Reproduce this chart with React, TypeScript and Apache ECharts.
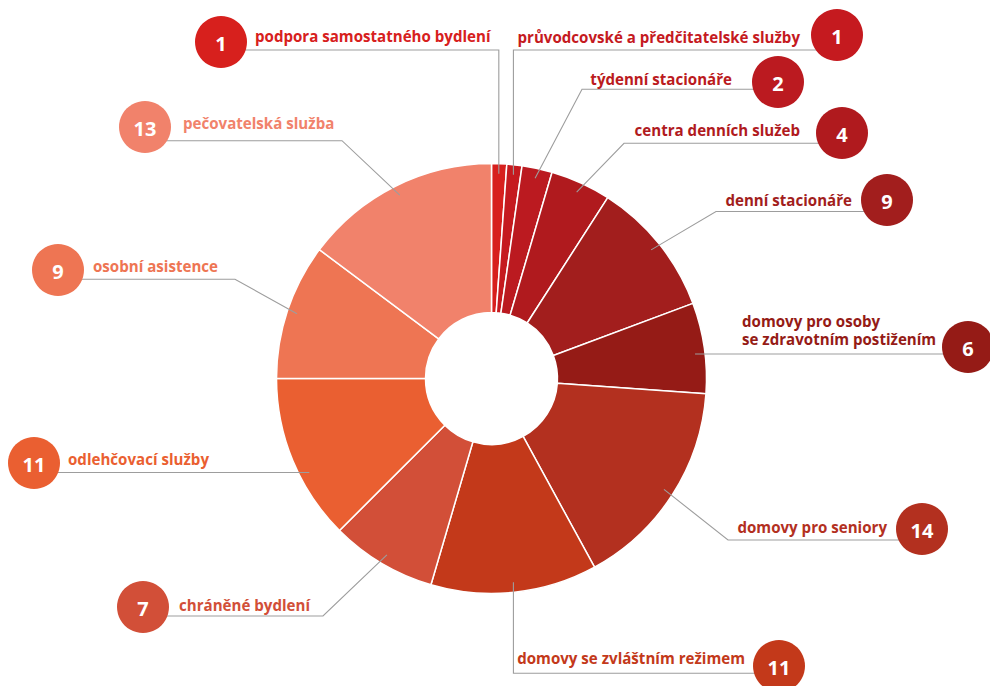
import React, { useEffect, useRef } from 'react';
import * as echarts from 'echarts';

// ---- data ----
const categories: string[] = [
  'podpora samostatného bydlení',
  'průvodcovské a předčitatelské služby',
  'týdenní stacionáře',
  'centra denních služeb',
  'denní stacionáře',
  'domovy pro osoby\nse zdravotním postižením',
  'domovy pro seniory',
  'domovy se zvláštním režimem',
  'chráněné bydlení',
  'odlehčovací služby',
  'osobní asistence',
  'pečovatelská služba',
];
const values: number[] = [1, 1, 2, 4, 9, 6, 14, 11, 7, 11, 9, 13];
const colors: string[] = [
  '#d7201d', '#c51a1f', '#bb1a20', '#b01a1e', '#a21e1d', '#951b16',
  '#b3301f', '#c3391a', '#d24f38', '#ea5f31', '#ee7553', '#f1826b',
];

// ---- layout (positions only) ----
const CENTER: [number, number] = [491.5, 378.5];
const R_IN = 66;
const R_OUT = 215;
const R_ANCHOR = 205;
const BADGE_R = 26;
const FONT_SIZE = 15.1;
const LINE_H = 18.3;

type Lay = {
  bx: number; by: number; tx: number; align: 'left' | 'right';
  base: number; ly: number; kind: 'elbow' | 'vertical' | 'straight'; kx?: number;
};
const layout: Lay[] = [
  { bx: 221, by: 42, tx: 255, align: 'left', base: 42, ly: 50, kind: 'vertical' },
  { bx: 837, by: 35, tx: 800, align: 'right', base: 43.3, ly: 50, kind: 'vertical' },
  { bx: 778, by: 82, tx: 732, align: 'right', base: 85, ly: 89.3, kind: 'elbow', kx: 582 },
  { bx: 842, by: 133, tx: 800, align: 'right', base: 136, ly: 143.3, kind: 'elbow', kx: 624 },
  { bx: 887, by: 200, tx: 852, align: 'right', base: 206, ly: 211.5, kind: 'elbow', kx: 716 },
  { bx: 968, by: 347, tx: 742, align: 'left', base: 326.7, ly: 354, kind: 'straight' },
  { bx: 922, by: 529, tx: 887, align: 'right', base: 533.3, ly: 540, kind: 'elbow', kx: 728 },
  { bx: 779, by: 666, tx: 745, align: 'right', base: 664, ly: 673.3, kind: 'vertical' },
  { bx: 143, by: 607, tx: 179, align: 'left', base: 610.7, ly: 616, kind: 'elbow', kx: 323 },
  { bx: 34, by: 463, tx: 68, align: 'left', base: 465, ly: 472.5, kind: 'straight' },
  { bx: 58, by: 270, tx: 93, align: 'left', base: 272.3, ly: 279.3, kind: 'elbow', kx: 235 },
  { bx: 145, by: 127, tx: 183, align: 'left', base: 129.3, ly: 140.7, kind: 'elbow', kx: 342 },
];

function buildGraphics() {
  const total = values.reduce((a, b) => a + b, 0);
  const els: any[] = [];
  let cum = 0;
  values.forEach((v, i) => {
    const mid = ((cum + v / 2) / total) * Math.PI * 2;
    cum += v;
    const L = layout[i];
    const [cx, cy] = CENTER;
    let pts: number[][];
    if (L.kind === 'straight') {
      const dy = L.ly - cy;
      const dx = Math.sqrt(R_ANCHOR * R_ANCHOR - dy * dy) * (Math.sin(mid) >= 0 ? 1 : -1);
      pts = [[cx + dx, L.ly], [L.bx, L.ly]];
    } else {
      const sx = cx + R_ANCHOR * Math.sin(mid);
      const sy = cy - R_ANCHOR * Math.cos(mid);
      const kx = L.kind === 'vertical' ? sx : (L.kx as number);
      pts = [[sx, sy], [kx, L.ly], [L.bx, L.ly]];
    }
    els.push({
      type: 'polyline', z: 100, silent: true,
      shape: { points: pts },
      style: { stroke: '#9d9d9d', lineWidth: 1.1, fill: null },
    });
    els.push({
      type: 'circle', z: 101, silent: true,
      shape: { cx: L.bx, cy: L.by, r: BADGE_R },
      style: { fill: colors[i] },
    });
    els.push({
      type: 'text', z: 102, silent: true,
      style: {
        text: String(v), x: L.bx, y: L.by + 1,
        fill: '#ffffff', font: "bold 20px 'Open Sans'",
        textAlign: 'center', textVerticalAlign: 'middle',
      },
    });
    categories[i].split('\n').forEach((line, k) => {
      els.push({
        type: 'text', z: 102, silent: true,
        style: {
          text: line, x: L.tx, y: L.base + k * LINE_H - 0.388 * FONT_SIZE,
          fill: colors[i], font: `bold ${FONT_SIZE}px 'Open Sans'`,
          textAlign: L.align, textVerticalAlign: 'middle',
        },
      });
    });
  });
  return els;
}

export default function App() {
  const ref = useRef<HTMLDivElement>(null);
  useEffect(() => {
    if (!ref.current) return;
    const chart = echarts.init(ref.current, undefined, { renderer: 'svg' });
    chart.setOption({
      animation: false,
      backgroundColor: '#ffffff',
      series: [
        {
          type: 'pie',
          center: CENTER,
          radius: [R_IN, R_OUT],
          startAngle: 90,
          clockwise: true,
          silent: true,
          label: { show: false },
          labelLine: { show: false },
          emphasis: { disabled: true },
          itemStyle: { borderColor: '#ffffff', borderWidth: 1.5 },
          data: categories.map((n, i) => ({
            name: n, value: values[i], itemStyle: { color: colors[i] },
          })),
        },
      ],
      graphic: buildGraphics(),
    });
    return () => chart.dispose();
  }, []);
  return (
    <div
      ref={ref}
      style={{ position: 'fixed', left: 0, top: 0, width: 990, height: 686 }}
    />
  );
}
